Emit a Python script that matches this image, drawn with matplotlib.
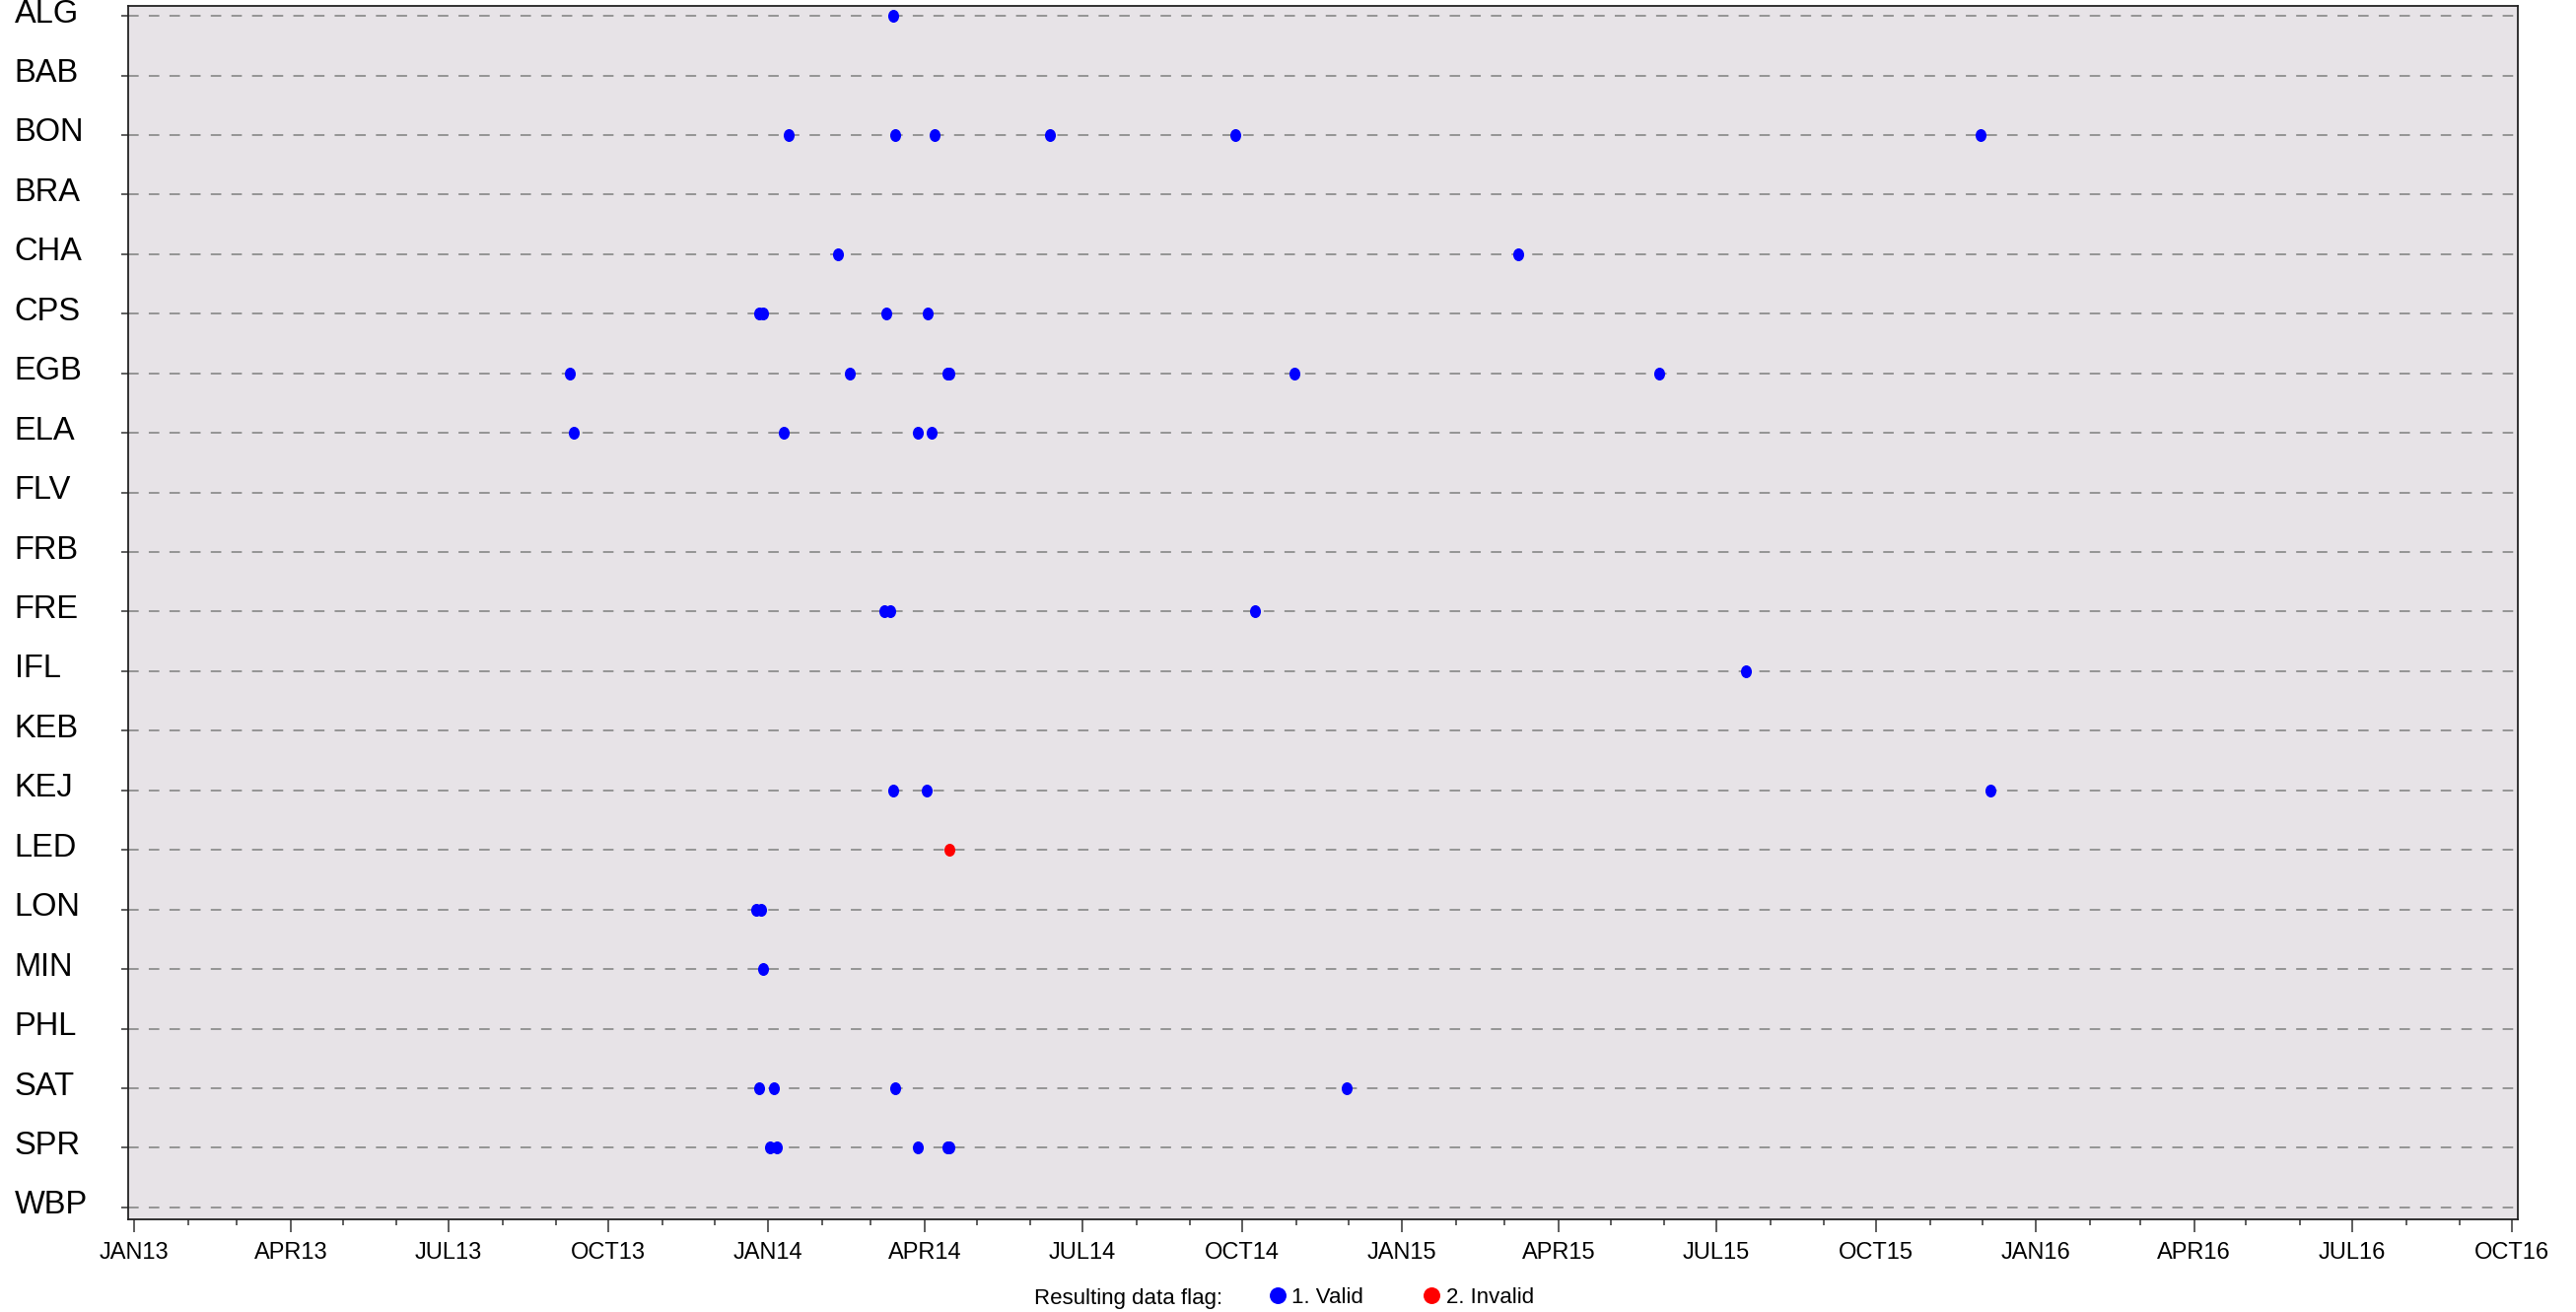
import numpy as np
import matplotlib
matplotlib.use("Agg")
import matplotlib.pyplot as plt
import matplotlib.dates as mdates
from matplotlib.path import Path
from matplotlib.lines import Line2D
from matplotlib.transforms import ScaledTranslation

plt.rcParams['font.family'] = ['Liberation Sans', 'DejaVu Sans']

sites = ['ALG', 'BAB', 'BON', 'BRA', 'CHA', 'CPS', 'EGB', 'ELA', 'FLV', 'FRB',
         'FRE', 'IFL', 'KEB', 'KEJ', 'LED', 'LON', 'MIN', 'PHL', 'SAT', 'SPR', 'WBP']

# flag 1. Valid
valid_site = ['ALG',
              'BON', 'BON', 'BON', 'BON', 'BON', 'BON',
              'CHA', 'CHA',
              'CPS', 'CPS', 'CPS', 'CPS',
              'EGB', 'EGB', 'EGB', 'EGB', 'EGB', 'EGB',
              'ELA', 'ELA', 'ELA', 'ELA',
              'FRE', 'FRE', 'FRE',
              'IFL',
              'KEJ', 'KEJ', 'KEJ',
              'LON', 'LON',
              'MIN',
              'SAT', 'SAT', 'SAT', 'SAT',
              'SPR', 'SPR', 'SPR', 'SPR', 'SPR']
valid_date = ['2014-03-14',
              '2014-01-13', '2014-03-15', '2014-04-07', '2014-06-12', '2014-09-27', '2015-11-30',
              '2014-02-10', '2015-03-09',
              '2013-12-27', '2013-12-29', '2014-03-10', '2014-04-03',
              '2013-09-09', '2014-02-17', '2014-04-14', '2014-04-15', '2014-10-31', '2015-05-29',
              '2013-09-11', '2014-01-10', '2014-03-28', '2014-04-05',
              '2014-03-09', '2014-03-12', '2014-10-08',
              '2015-07-18',
              '2014-03-14', '2014-04-02', '2015-12-06',
              '2013-12-25', '2013-12-28',
              '2013-12-29',
              '2013-12-27', '2014-01-04', '2014-03-15', '2014-11-30',
              '2014-01-02', '2014-01-06', '2014-03-28', '2014-04-14', '2014-04-15']

# flag 2. Invalid
invalid_site = ['LED']
invalid_date = ['2014-04-15']

quarter_ticks = ['2013-01-01', '2013-04-01', '2013-07-01', '2013-10-01',
                 '2014-01-01', '2014-04-01', '2014-07-01', '2014-10-01',
                 '2015-01-01', '2015-04-01', '2015-07-01', '2015-10-01',
                 '2016-01-01', '2016-04-01', '2016-07-01', '2016-10-01']
quarter_labels = ['JAN13', 'APR13', 'JUL13', 'OCT13', 'JAN14', 'APR14', 'JUL14', 'OCT14',
                  'JAN15', 'APR15', 'JUL15', 'OCT15', 'JAN16', 'APR16', 'JUL16', 'OCT16']

ypos = {s: i for i, s in enumerate(sites)}

fig = plt.figure(figsize=(26.13, 13.31), dpi=100)
ax = fig.add_axes([130 / 2613, 1 - 1237 / 1331, 2424 / 2613, 1231.5 / 1331])
ax.set_facecolor('#E7E3E7')

circ = Path.unit_circle()
dot = Path(circ.vertices * np.array([0.85, 1.0]), circ.codes)

ax.scatter(np.array(valid_date, dtype='datetime64[D]'), [ypos[s] for s in valid_site],
           marker=dot, s=88, color='#0000FF', linewidths=0, zorder=3)
ax.scatter(np.array(invalid_date, dtype='datetime64[D]'), [ypos[s] for s in invalid_site],
           marker=dot, s=88, color='#FF0000', linewidths=0, zorder=3)

ax.set_xlim(mdates.date2num(np.datetime64('2012-12-28T10')),
            mdates.date2num(np.datetime64('2016-10-04T10')))
ax.set_ylim(20.2, -0.175)

ax.set_yticks(range(len(sites)))
ax.set_yticklabels(sites, fontsize=23.5, ha='left')
ax.tick_params(axis='y', length=5, width=1.1, pad=78, color='#333333')
for lbl in ax.get_yticklabels():
    lbl.set_transform(lbl.get_transform() + ScaledTranslation(0, 5.5 / 100, fig.dpi_scale_trans))

ax.set_xticks(mdates.date2num(np.array(quarter_ticks, dtype='datetime64[D]')))
ax.set_xticklabels(quarter_labels, fontsize=17)
ax.xaxis.set_minor_locator(mdates.MonthLocator())
ax.tick_params(axis='x', which='major', length=9.4, width=1.1, pad=7.5, color='#333333')
ax.tick_params(axis='x', which='minor', length=4.3, width=1.1, color='#333333')

ax.yaxis.grid(True, color='#8e8e8e', linewidth=1.3, linestyle=(0, (5.9, 5.7)))
ax.set_axisbelow(True)
for sp in ax.spines.values():
    sp.set_linewidth(1.3)
    sp.set_color('#222222')

fig.text(1049 / 2613, 1 - 1317 / 1331, 'Resulting data flag:', fontsize=16,
         ha='left', va='center')
handles = [Line2D([], [], linestyle='none', marker='o', markersize=12.2,
                  markerfacecolor='#0000FF', markeredgewidth=0),
           Line2D([], [], linestyle='none', marker='o', markersize=12.2,
                  markerfacecolor='#FF0000', markeredgewidth=0)]
fig.legend(handles, ['1. Valid', '2. Invalid'], ncol=2, frameon=False, fontsize=16,
           loc='center left', bbox_to_anchor=(1287 / 2613, 1 - 1316 / 1331),
           borderpad=0, borderaxespad=0, handlelength=0.8, handletextpad=0.25,
           columnspacing=2.7)

fig.savefig('out.png', dpi=100)
